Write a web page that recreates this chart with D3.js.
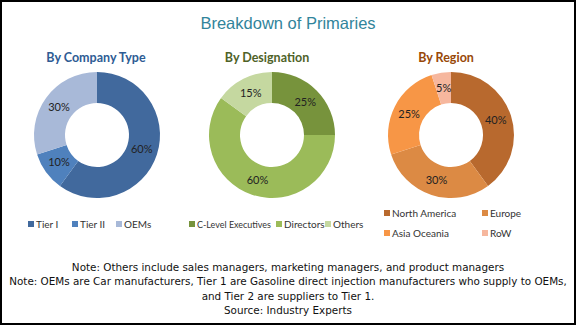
<!DOCTYPE html>
<html><head><meta charset="utf-8">
<script src="https://cdn.jsdelivr.net/npm/d3@7"></script>
<style>body{margin:0;background:#fff}svg{display:block}</style>
</head><body>
<svg id="c" width="576" height="325"></svg>
<script>
const chartTitle = "Breakdown of Primaries";
const companyCats = ["Tier I", "Tier II", "OEMs"];
const companyVals = [60, 10, 30];
const designationCats = ["C-Level Executives", "Directors", "Others"];
const designationVals = [25, 60, 15];
const regionCats = ["North America", "Europe", "Asia Oceania", "RoW"];
const regionVals = [40, 30, 25, 5];
const notes = [
  "Note: Others include sales managers, marketing managers, and product managers",
  "Note: OEMs are Car manufacturers, Tier 1 are Gasoline direct injection manufacturers who supply to OEMs,",
  "and Tier 2 are suppliers to Tier 1.",
  "Source: Industry Experts"
];

const svg = d3.select("#c");
svg.append("rect").attr("x",1).attr("y",1).attr("width",574).attr("height",323)
  .attr("fill","#fff").attr("stroke","#000").attr("stroke-width",2);

svg.append("text").attr("x",288).attr("y",29).attr("text-anchor","middle")
  .attr("font-family","Liberation Sans, Arial, sans-serif").attr("font-size",16.5)
  .attr("fill","#31849B").text(chartTitle);

const charts = [
  {title:"By Company Type", tcol:"#2E5C94", tx:96, cx:97, cats:companyCats, vals:companyVals,
   colors:["#41699D","#4F81BD","#A8B9D8"]},
  {title:"By Designation", tcol:"#4F6228", tx:267, cx:272, cats:designationCats, vals:designationVals,
   colors:["#77933C","#9BBB59","#C5D8A0"]},
  {title:"By Region", tcol:"#984807", tx:446, cx:451, cats:regionCats, vals:regionVals,
   colors:["#B8692E","#DC8A44","#F79646","#F6B79E"]}
];
const cy = 135, rOut = 63, rIn = 32;
const pie = d3.pie().sort(null).value(d=>d);
const arc = d3.arc().innerRadius(rIn).outerRadius(rOut);
const labelArc = d3.arc().innerRadius(47).outerRadius(47);

charts.forEach(ch=>{
  svg.append("text").attr("x",ch.tx).attr("y",62).attr("text-anchor","middle")
    .attr("font-family","Lato, Open Sans, sans-serif").attr("font-weight","bold").attr("font-size",12.5)
    .attr("fill",ch.tcol).text(ch.title);
  const color = d3.scaleOrdinal().domain(ch.cats).range(ch.colors);
  const g = svg.append("g").attr("transform",`translate(${ch.cx},${cy})`);
  const arcs = pie(ch.vals);
  g.selectAll("path").data(arcs).join("path")
    .attr("d",arc).attr("fill",(d,i)=>color(ch.cats[i]));
  g.selectAll("text").data(arcs).join("text")
    .attr("transform",d=>`translate(${labelArc.centroid(d)})`)
    .attr("text-anchor","middle").attr("dy","0.35em")
    .attr("font-family","Lato, Open Sans, sans-serif").attr("font-size",11)
    .attr("fill","#222").text(d=>d.data+"%");
});

// legends
function legendItem(x, y, col, label, maxW){
  svg.append("rect").attr("x",x-3).attr("y",y-3).attr("width",6).attr("height",6).attr("fill",col);
  const t = svg.append("text").attr("x",x+5).attr("y",y+3.5).attr("font-family","Lato, Open Sans, sans-serif")
    .attr("font-size",10).attr("fill","#333").text(label);
  if (maxW && t.node().getComputedTextLength() > maxW) {
    t.attr("textLength",maxW).attr("lengthAdjust","spacingAndGlyphs");
  }
}
const legPos = [
  [[31,224,38],[75,224,38],[119,224,38]],
  [[192,224,74],[279,224,42],[328,224,36]],
  [[387,213,80],[485,213,60],[387,233,80],[485,233,60]]
];
charts.forEach((ch,ci)=>{
  ch.cats.forEach((c,i)=>{
    const p = legPos[ci][i];
    legendItem(p[0], p[1], ch.colors[i], c, p[2]);
  });
});

const noteY = [271,285,300,314];
notes.forEach((n,i)=>{
  svg.append("text").attr("x",288).attr("y",noteY[i]).attr("text-anchor","middle")
    .attr("font-family","DejaVu Sans, sans-serif").attr("font-size",10.4)
    .attr("fill","#111").text(n);
});
</script>
</body></html>
